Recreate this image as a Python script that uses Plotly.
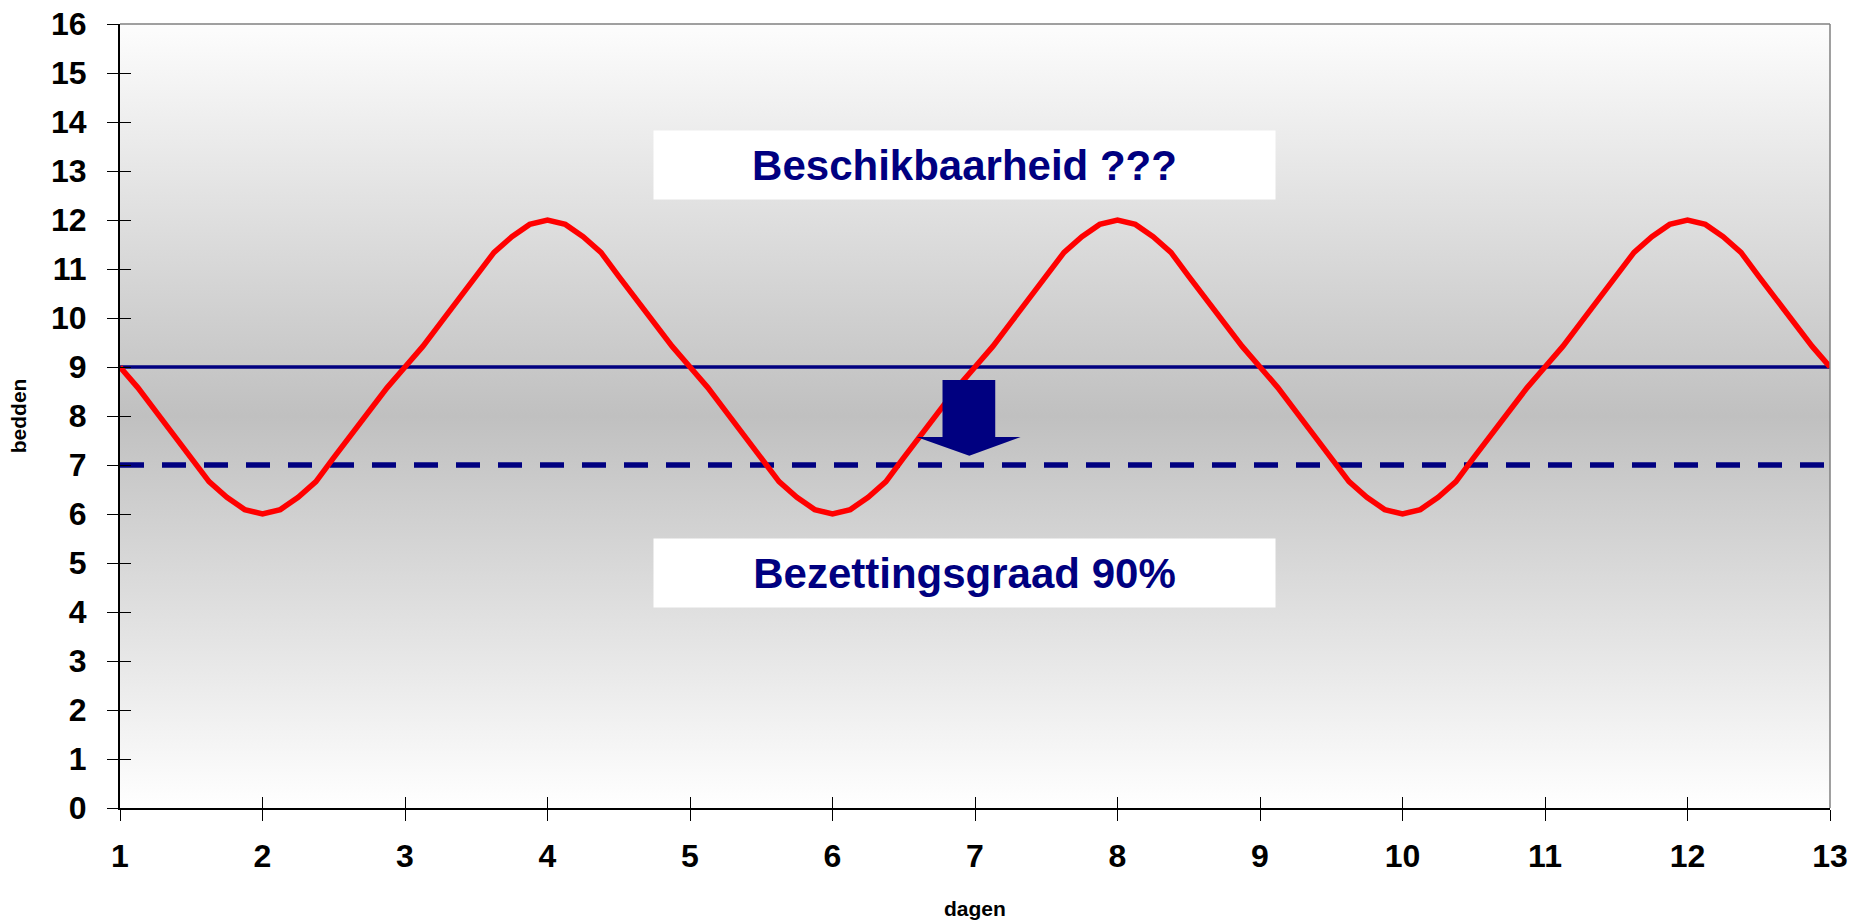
import plotly.graph_objects as go

# Bed occupancy per eighth of a day, days 1..13
bedden = [
    9.00, 8.58, 8.10, 7.63, 7.15, 6.66, 6.34, 6.09,
    6.00, 6.09, 6.34, 6.66, 7.15, 7.63, 8.10, 8.58,
    9.00, 9.42, 9.90, 10.37, 10.85, 11.34, 11.66, 11.91,
    12.00, 11.91, 11.66, 11.34, 10.85, 10.37, 9.90, 9.42,
    9.00, 8.58, 8.10, 7.63, 7.15, 6.66, 6.34, 6.09,
    6.00, 6.09, 6.34, 6.66, 7.15, 7.63, 8.10, 8.58,
    9.00, 9.42, 9.90, 10.37, 10.85, 11.34, 11.66, 11.91,
    12.00, 11.91, 11.66, 11.34, 10.85, 10.37, 9.90, 9.42,
    9.00, 8.58, 8.10, 7.63, 7.15, 6.66, 6.34, 6.09,
    6.00, 6.09, 6.34, 6.66, 7.15, 7.63, 8.10, 8.58,
    9.00, 9.42, 9.90, 10.37, 10.85, 11.34, 11.66, 11.91,
    12.00, 11.91, 11.66, 11.34, 10.85, 10.37, 9.90, 9.42,
    9.00,
]
dagen = [1 + i / 8 for i in range(len(bedden))]

dag_ticks = list(range(1, 14))
bed_ticks = list(range(0, 17))

capaciteit = 9   # available beds (solid line)
norm_90 = 7      # 90% occupancy level (dashed line)

NAVY = "#000080"
RED = "#ff0000"
TICK_FONT = dict(family="Liberation Sans, Arial, sans-serif", size=32, color="black", weight="bold")
BOX_FONT = dict(family="Liberation Sans, Arial, sans-serif", size=42, color=NAVY, weight="bold")

fig = go.Figure()

# plot-area background: white -> grey -> white
fig.add_trace(go.Scatter(
    x=[dag_ticks[0], dag_ticks[-1], dag_ticks[-1], dag_ticks[0], dag_ticks[0]],
    y=[bed_ticks[0], bed_ticks[0], bed_ticks[-1], bed_ticks[-1], bed_ticks[0]],
    mode="lines", line=dict(width=0), fill="toself",
    fillgradient=dict(type="vertical",
                      colorscale=[[0, "#ffffff"], [0.5, "#c0c0c0"], [1, "#fdfdfd"]]),
    hoverinfo="skip", showlegend=False,
))

fig.add_trace(go.Scatter(
    x=[dag_ticks[0], dag_ticks[-1]], y=[capaciteit, capaciteit],
    mode="lines", line=dict(color=NAVY, width=3.5), showlegend=False,
))
fig.add_trace(go.Scatter(
    x=[dag_ticks[0], dag_ticks[-1]], y=[norm_90, norm_90],
    mode="lines", line=dict(color=NAVY, width=5.5, dash="24px,18px"), showlegend=False,
))
fig.add_trace(go.Scatter(
    x=dagen, y=bedden, mode="lines",
    line=dict(color=RED, width=5.5), showlegend=False,
))

# helper trace so the inside-tick overlay axes are drawn
fig.add_trace(go.Scatter(
    x=[dag_ticks[0]], y=[bed_ticks[0]], xaxis="x2", yaxis="y2",
    mode="markers", marker=dict(opacity=0), hoverinfo="skip", showlegend=False,
))

# downward arrow between the two levels
arrow = ("M 6.772,8.735 L 7.142,8.735 L 7.142,7.571 L 7.320,7.571 "
         "L 6.960,7.19 L 6.590,7.571 L 6.772,7.571 Z")
fig.add_shape(type="path", path=arrow, xref="x", yref="y",
              fillcolor=NAVY, line=dict(width=0), layer="above")

# grey frame on top and right
fig.add_shape(type="line", xref="paper", yref="paper", x0=0, x1=1, y0=1, y1=1,
              line=dict(color="#808080", width=1.5))
fig.add_shape(type="line", xref="paper", yref="paper", x0=1, x1=1, y0=0, y1=1,
              line=dict(color="#808080", width=1.5))

# text boxes
for label, yv in [("Beschikbaarheid ???", 13.12), ("Bezettingsgraad 90%", 4.79)]:
    fig.add_annotation(
        x=6.927, y=yv, xref="x", yref="y", text=label, showarrow=False,
        font=BOX_FONT, bgcolor="white", width=621, height=68, borderpad=0,
        xanchor="center", yanchor="middle", align="center", valign="middle",
    )

# axis titles
fig.add_annotation(x=0.5, y=-0.1288, xref="paper", yref="paper", text="dagen",
                   showarrow=False, xanchor="center", yanchor="middle",
                   font=dict(family="Liberation Sans, Arial, sans-serif", size=21,
                             color="black", weight="bold"))
fig.add_annotation(x=-0.0595, y=0.5, xref="paper", yref="paper", text="bedden",
                   showarrow=False, textangle=-90, xanchor="center", yanchor="middle",
                   font=dict(family="Liberation Sans, Arial, sans-serif", size=21,
                             color="black", weight="bold"))

axis_common = dict(showgrid=False, zeroline=False, tickcolor="black", tickwidth=1,
                   ticklen=11, automargin=False)

fig.update_layout(
    width=1854, height=924,
    margin=dict(l=120, r=24, t=24, b=116),
    paper_bgcolor="white", plot_bgcolor="white",
    showlegend=False,
    xaxis=dict(range=[1, 13], tickmode="array", tickvals=dag_ticks, ticks="outside",
               showline=True, linecolor="black", linewidth=2, tickfont=TICK_FONT,
               ticklabelstandoff=8, **axis_common),
    yaxis=dict(range=[0, 16], tickmode="array", tickvals=bed_ticks, ticks="outside",
               showline=True, linecolor="black", linewidth=2, tickfont=TICK_FONT,
               ticklabelstandoff=14, **axis_common),
    xaxis2=dict(range=[1, 13], overlaying="x", side="bottom", tickmode="array",
                tickvals=dag_ticks, ticks="inside", showticklabels=False,
                showline=False, **axis_common),
    yaxis2=dict(range=[0, 16], overlaying="y", side="left", tickmode="array",
                tickvals=bed_ticks, ticks="inside", showticklabels=False,
                showline=False, **axis_common),
)

fig.write_html("out.html")
